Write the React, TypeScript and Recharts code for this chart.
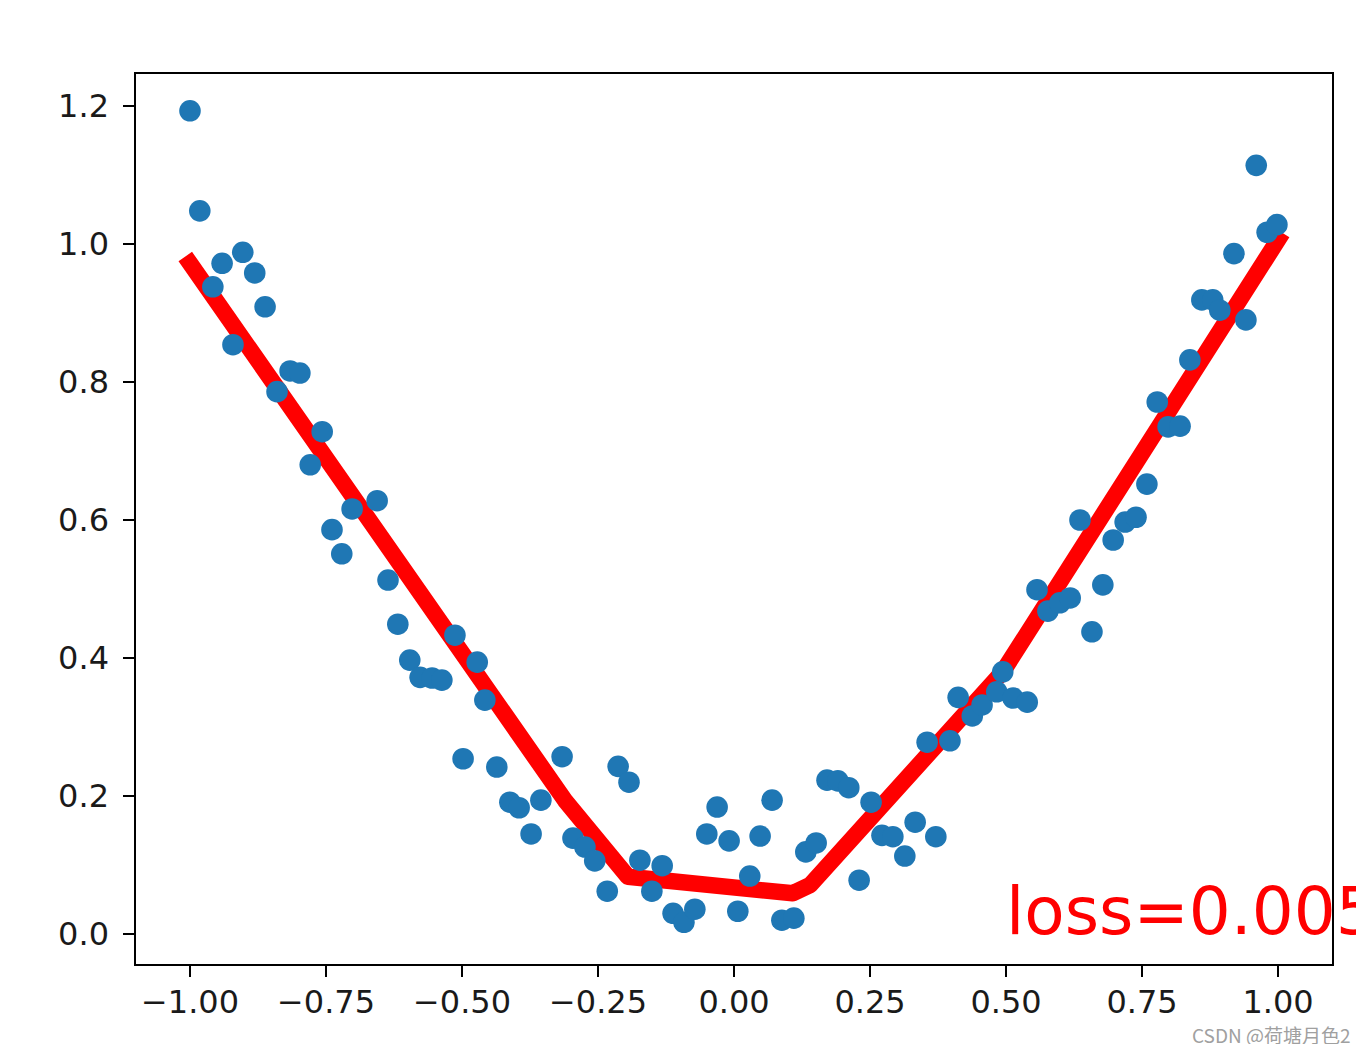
import React from 'react';
import { ComposedChart, Scatter, Line, XAxis, YAxis, ReferenceArea, ReferenceDot } from 'recharts';

const scatterX = [
  -1.000, -0.982, -0.958, -0.941, -0.921, -0.903, -0.881, -0.862, -0.840, -0.816,
  -0.798, -0.779, -0.757, -0.739, -0.721, -0.702, -0.656, -0.636, -0.618, -0.596,
  -0.577, -0.555, -0.537, -0.513, -0.498, -0.472, -0.458, -0.436, -0.412, -0.395,
  -0.373, -0.355, -0.316, -0.296, -0.274, -0.256, -0.233, -0.213, -0.193, -0.173,
  -0.151, -0.132, -0.112, -0.092, -0.072, -0.050, -0.031, -0.009, 0.007, 0.029,
  0.048, 0.070, 0.088, 0.110, 0.132, 0.151, 0.171, 0.191, 0.211, 0.230,
  0.252, 0.272, 0.292, 0.314, 0.333, 0.355, 0.371, 0.397, 0.412, 0.438,
  0.456, 0.483, 0.494, 0.513, 0.539, 0.557, 0.577, 0.599, 0.618, 0.636,
  0.658, 0.678, 0.697, 0.719, 0.739, 0.759, 0.778, 0.798, 0.820, 0.838,
  0.860, 0.880, 0.893, 0.919, 0.941, 0.960, 0.980, 0.998,
];

const scatterY = [
  1.193, 1.048, 0.938, 0.972, 0.854, 0.988, 0.958, 0.909, 0.786, 0.816,
  0.813, 0.680, 0.728, 0.586, 0.551, 0.616, 0.628, 0.513, 0.449, 0.397,
  0.372, 0.371, 0.368, 0.433, 0.254, 0.394, 0.339, 0.242, 0.191, 0.183,
  0.145, 0.194, 0.257, 0.139, 0.126, 0.106, 0.062, 0.243, 0.220, 0.107,
  0.062, 0.099, 0.030, 0.017, 0.036, 0.145, 0.184, 0.135, 0.033, 0.084,
  0.142, 0.194, 0.020, 0.023, 0.119, 0.132, 0.223, 0.222, 0.212, 0.078,
  0.191, 0.143, 0.141, 0.113, 0.162, 0.278, 0.141, 0.280, 0.343, 0.316,
  0.332, 0.351, 0.380, 0.342, 0.336, 0.499, 0.468, 0.480, 0.487, 0.600,
  0.438, 0.506, 0.571, 0.597, 0.604, 0.652, 0.771, 0.735, 0.736, 0.832,
  0.919, 0.919, 0.904, 0.986, 0.890, 1.114, 1.017, 1.028,
];

const lineX = [-1.0, -0.311, -0.195, 0.108, 0.140, 0.494, 1.0];
const lineY = [0.972, 0.194, 0.083, 0.059, 0.071, 0.380, 1.006];

const xTicks = [-1, -0.75, -0.5, -0.25, 0, 0.25, 0.5, 0.75, 1];
const yTicks = [0, 0.2, 0.4, 0.6, 0.8, 1.0, 1.2];

const xDomain: [number, number] = [-1.1011, 1.1011];
const yDomain: [number, number] = [-0.0449, 1.2478];

const lossText = 'loss=0.0050';
const lossPos = { x: 0.5, y: 0 };
const watermark = 'CSDN @荷塘月色2';

const scatterData = scatterX.map((x, i) => ({ x, y: scatterY[i] }));
const lineData = lineX.map((x, i) => ({ x, y: lineY[i] }));

const FONT = '"DejaVu Sans", sans-serif';
const fmtX = (v: number) => (v < 0 ? '\u2212' : '') + Math.abs(v).toFixed(2);
const fmtY = (v: number) => (v < 0 ? '\u2212' : '') + Math.abs(v).toFixed(1);

const Dot = (p: any) => <circle cx={p.cx} cy={p.cy} r={10.8} fill="#1f77b4" />;

const LossLabel = (p: any) => (
  <text x={p.cx} y={p.cy} fill="#ff0000" fontSize={66} fontFamily={FONT}>
    {lossText}
  </text>
);

export default function App() {
  return (
    <div style={{ position: 'relative', width: 1348, height: 1036 }} className="wrap">
      <style>{`.wrap svg { overflow: visible; }`}</style>
      <ComposedChart
        width={1348}
        height={1036}
        margin={{ top: 65, right: 23, bottom: 19, left: 0 }}
      >
        <XAxis
          type="number"
          dataKey="x"
          domain={xDomain}
          allowDataOverflow
          ticks={xTicks}
          interval={0}
          tickFormatter={fmtX}
          axisLine={false}
          tickSize={12}
          tickMargin={13}
          tickLine={{ stroke: '#000', strokeWidth: 2 }}
          tick={{ fill: '#1a1a1a', fontSize: 32, fontFamily: FONT }}
          height={60}
        />
        <YAxis
          type="number"
          dataKey="y"
          domain={yDomain}
          allowDataOverflow
          ticks={yTicks}
          interval={0}
          tickFormatter={fmtY}
          axisLine={false}
          tickSize={12}
          tickMargin={14}
          tickLine={{ stroke: '#000', strokeWidth: 2 }}
          tick={{ fill: '#1a1a1a', fontSize: 32, fontFamily: FONT }}
          width={127}
        />
        <Scatter data={scatterData} shape={Dot} isAnimationActive={false} />
        <Line
          data={lineData}
          dataKey="y"
          type="linear"
          stroke="#ff0000"
          strokeWidth={16.5}
          strokeLinecap="square"
          strokeLinejoin="round"
          dot={false}
          activeDot={false}
          isAnimationActive={false}
        />
        <ReferenceArea
          x1={xDomain[0]}
          x2={xDomain[1]}
          y1={yDomain[0]}
          y2={yDomain[1]}
          fill="none"
          stroke="#000"
          strokeWidth={2}
          fillOpacity={0}
          ifOverflow="visible"
        />
        <ReferenceDot x={lossPos.x} y={lossPos.y} r={0} ifOverflow="visible" shape={LossLabel} />
      </ComposedChart>
      <svg
        width={200}
        height={30}
        style={{ position: 'absolute', left: 1180, top: 1012 }}
      >
        <text x={4} y={23} fill="#a0a0a0" fontSize={19} fontFamily='"Noto Sans CJK SC", "Noto Sans", sans-serif'>
          {watermark}
        </text>
      </svg>
    </div>
  );
}
